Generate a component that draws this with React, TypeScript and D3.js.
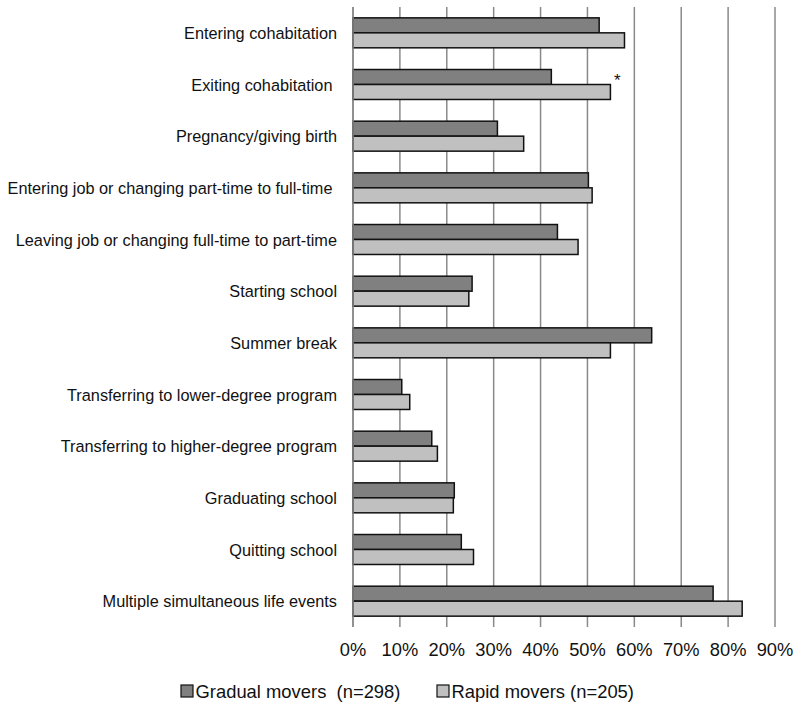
import React from "react";
import * as d3 from "d3";

const categories = [
  "Entering cohabitation",
  "Exiting cohabitation ",
  "Pregnancy/giving birth",
  "Entering job or changing part-time to full-time ",
  "Leaving job or changing full-time to part-time",
  "Starting school",
  "Summer break",
  "Transferring to lower-degree program",
  "Transferring to higher-degree program",
  "Graduating school",
  "Quitting school",
  "Multiple simultaneous life events",
];
const gradual = [52.5, 42.3, 30.8, 50.2, 43.6, 25.4, 63.7, 10.4, 16.8, 21.6, 23.1, 76.8];
const rapid = [57.9, 54.9, 36.4, 51.0, 48.0, 24.7, 54.9, 12.1, 18.0, 21.4, 25.7, 83.0];
const significant = [false, true, false, false, false, false, false, false, false, false, false, false];
const ticks = [0, 10, 20, 30, 40, 50, 60, 70, 80, 90];
const seriesNames = ["Gradual movers  (n=298)", "Rapid movers (n=205)"];
const seriesColors = ["#808080", "#c0c0c0"];

const W = 800;
const H = 709;
const FONT = "'Liberation Sans', Arial, sans-serif";

export default function App() {
  const x = d3.scaleLinear().domain([0, 90]).range([353, 775]);
  const y = d3
    .scaleBand<string>()
    .domain(categories)
    .range([7, 627])
    .paddingInner(0.42)
    .paddingOuter(0.21);
  const bw = y.bandwidth() / 2;
  const [y0, y1] = y.range();

  return (
    <svg
      width={W}
      height={H}
      style={{ position: "absolute", left: 0, top: 0, background: "#fff" }}
      fontFamily={FONT}
    >
      <rect x={0} y={0} width={W} height={H} fill="#fff" />
      {ticks.map((t) => (
        <line
          key={"g" + t}
          x1={x(t)}
          x2={x(t)}
          y1={y0}
          y2={y1}
          stroke="#8a8a8a"
          strokeWidth={1.5}
        />
      ))}
      {categories.map((c, i) => {
        const top = y(c)!;
        return (
          <g key={c}>
            <rect
              x={x(0)}
              y={top}
              width={x(gradual[i]) - x(0)}
              height={bw}
              fill={seriesColors[0]}
              stroke="#111"
              strokeWidth={1.5}
            />
            <rect
              x={x(0)}
              y={top + bw}
              width={x(rapid[i]) - x(0)}
              height={bw}
              fill={seriesColors[1]}
              stroke="#111"
              strokeWidth={1.5}
            />
            {significant[i] && (
              <text
                x={x(rapid[i]) + 7}
                y={top + 4}
                fontSize={17}
                textAnchor="middle"
                dominantBaseline="hanging"
                fill="#111"
              >
                *
              </text>
            )}
            <text
              x={337}
              y={top + y.bandwidth() / 2}
              fontSize={16.3}
              textAnchor="end"
              dominantBaseline="central"
              fill="#111"
              style={{ whiteSpace: "pre" }}
            >
              {c}
            </text>
          </g>
        );
      })}
      <line x1={x(0)} x2={x(0)} y1={y0} y2={y1} stroke="#8a8a8a" strokeWidth={1.5} />
      {ticks.map((t) => (
        <text
          key={"t" + t}
          x={x(t)}
          y={649}
          fontSize={18.3}
          textAnchor="middle"
          dominantBaseline="central"
          fill="#111"
        >
          {t + "%"}
        </text>
      ))}
      {seriesNames.map((s, i) => {
        const lx = i === 0 ? 181 : 437;
        return (
          <g key={s}>
            <rect
              x={lx}
              y={685}
              width={12}
              height={12}
              fill={seriesColors[i]}
              stroke="#111"
              strokeWidth={1.2}
            />
            <text
              x={lx + 14.5}
              y={691}
              fontSize={18.4}
              dominantBaseline="central"
              fill="#111"
              style={{ whiteSpace: "pre" }}
            >
              {s}
            </text>
          </g>
        );
      })}
    </svg>
  );
}
